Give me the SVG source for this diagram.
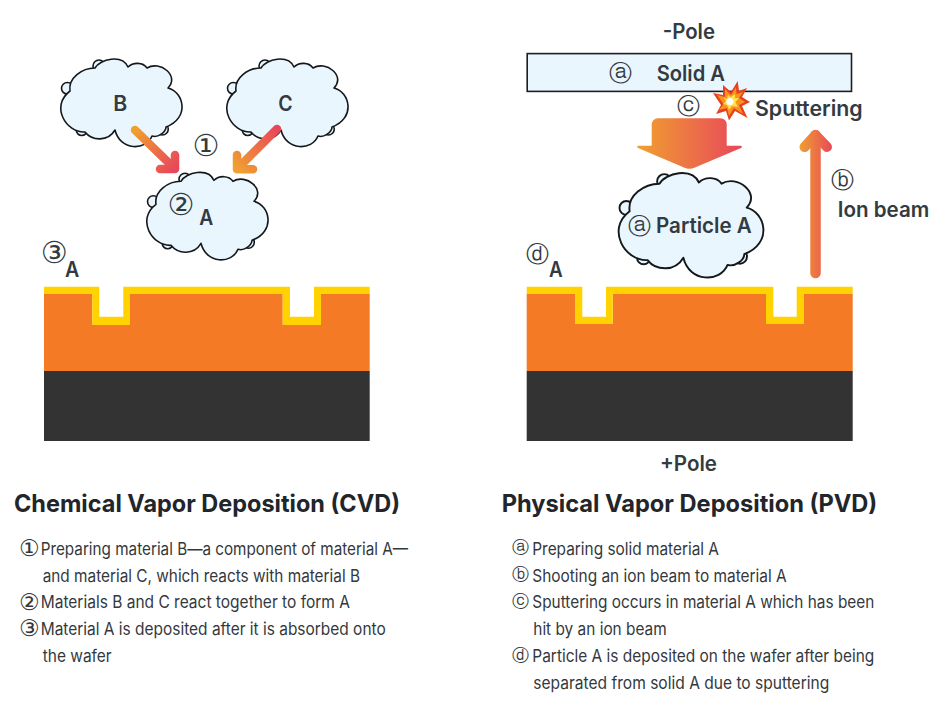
<svg xmlns="http://www.w3.org/2000/svg" xmlns:xlink="http://www.w3.org/1999/xlink" width="932" height="710" viewBox="0 0 932 710">
<style>
text{font-family:"Inter","Noto Sans","Liberation Sans",sans-serif;fill:#333a40}
.lb{font-size:21px;font-weight:600;text-anchor:start}
.ti{font-size:24px;font-weight:700;fill:#222529}
.bd{font-size:17px;font-weight:400;fill:#33383d}
.cn{font-family:"DejaVu Sans",sans-serif;font-size:30px;text-anchor:middle;fill:#333a40}
.cl2{font-family:"DejaVu Sans",sans-serif;font-size:23px;text-anchor:middle;fill:#333a40}
.cs{font-family:"DejaVu Sans",sans-serif;font-size:23px;text-anchor:middle;fill:#33383d}
.cm{font-family:"DejaVu Sans",sans-serif;font-size:17px;text-anchor:middle;fill:#33383d}
.cl{fill:#eaf6fd;stroke:#14181b;stroke-width:1.6;stroke-linejoin:round}
.ar{fill:none;stroke-width:8.5;stroke-linecap:round;stroke-linejoin:round}
</style>
<defs>
<linearGradient id="gB" gradientUnits="userSpaceOnUse" x1="135" y1="130" x2="175" y2="169"><stop offset="0" stop-color="#f0a030"/><stop offset="1" stop-color="#e8475a"/></linearGradient>
<linearGradient id="gC" gradientUnits="userSpaceOnUse" x1="277" y1="129" x2="237" y2="169"><stop offset="0" stop-color="#e8475a"/><stop offset="1" stop-color="#f0a030"/></linearGradient>
<linearGradient id="gD" gradientUnits="userSpaceOnUse" x1="637" y1="0" x2="742" y2="0"><stop offset="0" stop-color="#f0a030"/><stop offset="1" stop-color="#e8475a"/></linearGradient>
<linearGradient id="gU" gradientUnits="userSpaceOnUse" x1="799" y1="0" x2="833" y2="0"><stop offset="0" stop-color="#f0a030"/><stop offset="1" stop-color="#e8475a"/></linearGradient>
<g id="cloud">
<circle class="cl" cx="67.3" cy="88.3" r="5.8"/><circle class="cl" cx="99" cy="66" r="6"/><circle class="cl" cx="81.7" cy="130" r="5.5"/><circle class="cl" cx="162.3" cy="129" r="6"/>
<path class="cl" d="M70 91C68 78 82 68 95 68C100 59 122 54 128 67C133 62 143 62 147 68C160 60 180 76 168 88C184 92 190 118 166 127C166 132 158 138 152 136C146 151 120 151 115 130C108 142 92 141 85 132C66 133 50 106 70 91Z"/>
</g>
</defs>
<rect width="932" height="710" fill="#fff"/>

<g id="cloud-b"><use xlink:href="#cloud" href="#cloud"/><text class="lb" x="113.3" y="110.7" textLength="14" lengthAdjust="spacingAndGlyphs">B</text></g>
<g id="cloud-c"><use xlink:href="#cloud" href="#cloud" transform="translate(166 0)"/><text class="lb" x="278.3" y="110.7" textLength="14.4" lengthAdjust="spacingAndGlyphs">C</text></g>
<g id="cloud-a"><use xlink:href="#cloud" href="#cloud" transform="translate(86 113.3)"/><text class="cn" x="206" y="155.8">①</text><text class="cn" x="181" y="214.8">②</text><text class="lb" x="199.3" y="225" textLength="14" lengthAdjust="spacingAndGlyphs">A</text></g>

<g id="wafer-cvd">
<rect x="44" y="371" width="325.7" height="70" fill="#333333"/>
<path d="M44 294H92.3V325H130V294H282.7V325H321V294H369.7V371H44Z" fill="#f57a25"/>
<path d="M44 286.7H99.3V316.7H123.3V286.7H290V316.7H314V286.7H369.7V294H321V325H282.7V294H130V325H92.3V294H44Z" fill="#ffd200"/>
<text class="cn" x="54.3" y="262.5">③</text>
<text class="lb" x="65" y="276.7" textLength="14.3" lengthAdjust="spacingAndGlyphs">A</text>
</g>

<g id="solid-a">
<rect x="527.2" y="53.6" width="324.3" height="37.8" fill="#eaf6fd" stroke="#1a1e21" stroke-width="1.6"/>
<text class="cl2" x="620" y="81">ⓐ</text>
<text class="lb" x="656.7" y="80.7" textLength="68.3" lengthAdjust="spacingAndGlyphs">Solid A</text>
</g>
<text class="lb" x="662.7" y="39" textLength="52.3" lengthAdjust="spacingAndGlyphs">-Pole</text>

<g id="sputter">
<polygon points="737.7,81 739,91 747,88 742,97 750,102 742,106 747.5,118 735,111 729,120.5 726,111 716,114 721,105 713,93 723,95 723,85 731,92" fill="#e8401f"/>
<polygon points="736,87 736.5,94 743,92 739,98 745,102 739,105 743,114 734,108 729,116 727,108 719,110 723.5,104 717,95 725,97 725,89 731,95" fill="#f7941d"/>
<polygon points="735,94 735,98 739,98 735.5,102 738,107 732,106 729,110 727,105 723,104 726,101 723,97 727,99 728,95 731,97" fill="#ffe14a"/>
<circle cx="730" cy="101.5" r="3.6" fill="#fff"/>
<text class="lb" x="755" y="116" textLength="107.7" lengthAdjust="spacingAndGlyphs">Sputtering</text>
</g>
<text class="cl2" x="688.3" y="114">ⓒ</text>

<g id="cloud-particle">
<g transform="translate(617.7 173.3) scale(1.194) translate(-60 -59.3)"><use xlink:href="#cloud" href="#cloud"/></g>
<text class="cl2" x="639.3" y="234.3">ⓐ</text>
<text class="lb" x="656" y="233.3" textLength="95.7" lengthAdjust="spacingAndGlyphs">Particle A</text>
</g>

<g id="ion-label">
<text class="cl2" x="842.3" y="188.3">ⓑ</text>
<text class="lb" x="837.7" y="217.3" textLength="91.6" lengthAdjust="spacingAndGlyphs">Ion beam</text>
</g>

<g id="wafer-pvd">
<rect x="526.7" y="371" width="326" height="70" fill="#333333"/>
<path d="M526.7 294H575V324H612.7V294H766V324H804V294H852.7V371H526.7Z" fill="#f57a25"/>
<path d="M526.7 286.7H582.3V316.7H606V286.7H773.3V316.7H796.7V286.7H852.7V294H804V324H766V294H612.7V324H575V294H526.7Z" fill="#ffd200"/>
<text class="cl2" x="537" y="261.5">ⓓ</text>
<text class="lb" x="549" y="276.7" textLength="13.7" lengthAdjust="spacingAndGlyphs">A</text>
</g>
<text class="lb" x="660" y="470.5" textLength="57" lengthAdjust="spacingAndGlyphs">+Pole</text>

<g id="connectors">
<g class="ar"><path d="M135 130L172 166" stroke="url(#gB)"/><path d="M175 155V169H160" stroke="url(#gB)"/></g>
<g class="ar"><path d="M277 129L240 166" stroke="url(#gC)"/><path d="M237 155V169.3H253" stroke="url(#gC)"/></g>
<path d="M658 118.3H720.7A6 6 0 0 1 726.7 124.3V145.7H740.5Q743 146 741 148L695 167.5Q689.3 170 684 167.5L638 148Q636 146 638.5 145.7H651.7V124.3A6 6 0 0 1 658 118.3Z" fill="url(#gD)"/>
<path d="M815.5 273V135" class="ar" stroke="url(#gU)" style="stroke-width:10.5"/>
<path d="M804.5 147L815.5 135L827 147" class="ar" stroke="url(#gU)" style="stroke-width:10"/>
</g>

<g id="cvd-text">
<text class="ti" x="14" y="512" textLength="386" lengthAdjust="spacingAndGlyphs">Chemical Vapor Deposition (CVD)</text>
<text class="cs" x="29.3" y="556.3">①</text><text class="bd" x="40.7" y="555" textLength="367.3" lengthAdjust="spacingAndGlyphs">Preparing material B—a component of material A—</text>
<text class="bd" x="42.7" y="581.7" textLength="317.3" lengthAdjust="spacingAndGlyphs">and material C, which reacts with material B</text>
<text class="cs" x="29.3" y="610">②</text><text class="bd" x="40.7" y="608.3" textLength="309.3" lengthAdjust="spacingAndGlyphs">Materials B and C react together to form A</text>
<text class="cs" x="29.3" y="636.3">③</text><text class="bd" x="40.7" y="635" textLength="345" lengthAdjust="spacingAndGlyphs">Material A is deposited after it is absorbed onto</text>
<text class="bd" x="42.7" y="661.7" textLength="69" lengthAdjust="spacingAndGlyphs">the wafer</text>
</g>

<g id="pvd-text">
<text class="ti" x="501.7" y="511.7" textLength="375.6" lengthAdjust="spacingAndGlyphs">Physical Vapor Deposition (PVD)</text>
<text class="cm" x="520" y="552.8">ⓐ</text><text class="bd" x="532.3" y="555" textLength="186.7" lengthAdjust="spacingAndGlyphs">Preparing solid material A</text>
<text class="cm" x="520" y="579.8">ⓑ</text><text class="bd" x="532.3" y="581.7" textLength="254.4" lengthAdjust="spacingAndGlyphs">Shooting an ion beam to material A</text>
<text class="cm" x="520" y="606.6">ⓒ</text><text class="bd" x="532.3" y="608.3" textLength="342" lengthAdjust="spacingAndGlyphs">Sputtering occurs in material A which has been</text>
<text class="bd" x="533.3" y="635" textLength="133.4" lengthAdjust="spacingAndGlyphs">hit by an ion beam</text>
<text class="cm" x="520" y="661">ⓓ</text><text class="bd" x="532.3" y="661.7" textLength="342" lengthAdjust="spacingAndGlyphs">Particle A is deposited on the wafer after being</text>
<text class="bd" x="533.3" y="689" textLength="296" lengthAdjust="spacingAndGlyphs">separated from solid A due to sputtering</text>
</g>
</svg>
